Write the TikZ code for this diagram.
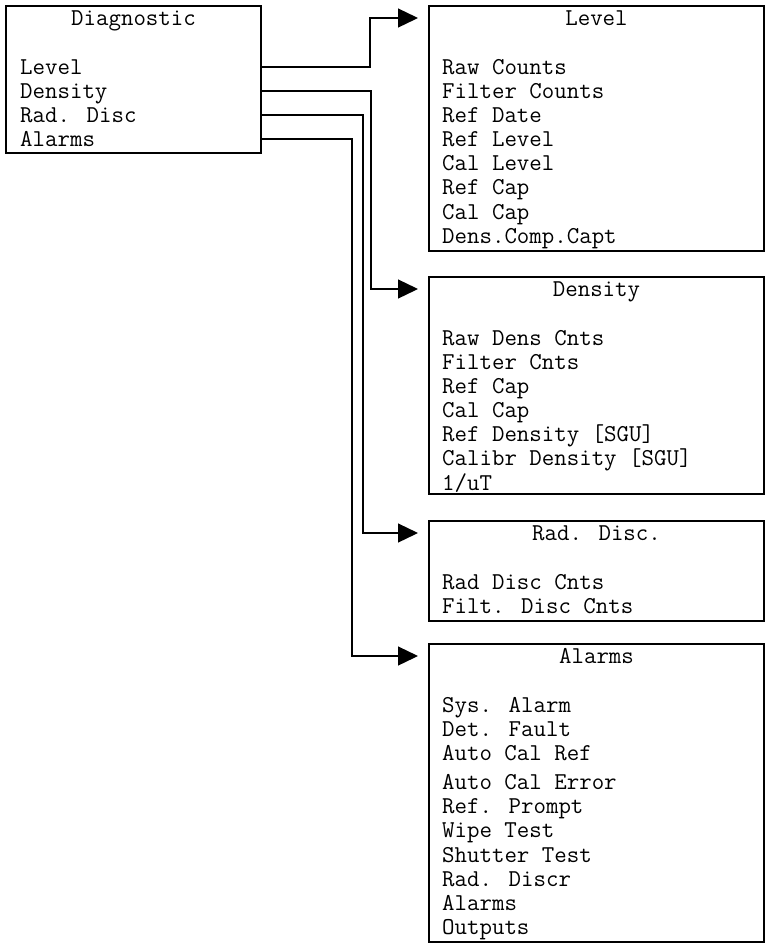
\documentclass[tikz,border=0pt]{standalone}
\usepackage{fontspec}
\usetikzlibrary{arrows.meta}

\begin{document}
\begin{tikzpicture}
 [x=1pt, y=-1pt,
  box/.style={draw, line width=2pt, anchor=north west, inner sep=0pt, minimum width=335pt},
  head/.style={font=\ttfamily\fontsize{24.2}{24.15}\selectfont, inner sep=0pt, anchor=base, text height=14pt, text depth=0pt},
  item/.style={head, anchor=base west},
  list/.style={font=\ttfamily\fontsize{24.2}{24.15}\selectfont, inner sep=0pt, anchor=north west, align=left},
  conn/.style={line width=1.3pt, -{Triangle[length=20pt,width=19pt]}, shorten >=10pt}]

\useasboundingbox (0,0) rectangle (767,943);

% main menu
\node[box, minimum width=255pt, minimum height=147pt] (diag) at (5,5) {};
\node[head] (diagt) at ([yshift=-20pt]diag.north) {Diagnostic};
\node[item] (dlev) at (20,74) {Level};
\node[item] (dden) at (20,98) {Density};
\node[item] (drad) at (20,122) {Rad. Disc};
\node[item] (dala) at (20,146) {Alarms};

% sub menus
\node[box, minimum height=245pt] (level) at (428,5) {};
\node[head] (levt) at ([yshift=-20pt]level.north) {Level};
\node[list] (levl) at ([xshift=14pt,yshift=-52pt]level.north west)
  {\strut Raw Counts\\Filter Counts\\Ref Date\\Ref Level\\Cal Level\\Ref Cap\\Cal Cap\\Dens.Comp.Capt};

\node[box, minimum height=217pt] (dens) at (428,276) {};
\node[head] (dent) at ([yshift=-20pt]dens.north) {Density};
\node[list] (densl) at ([xshift=14pt,yshift=-52pt]dens.north west)
  {\strut Raw Dens Cnts\\Filter Cnts\\Ref Cap\\Cal Cap\\Ref Density [SGU]\\Calibr Density [SGU]\\1/uT};

\node[box, minimum height=100pt] (rad) at (428,520) {};
\node[head] (radt) at ([yshift=-20pt]rad.north) {Rad. Disc.};
\node[list] (radl) at ([xshift=14pt,yshift=-52pt]rad.north west)
  {\strut Rad Disc Cnts\\Filt. Disc Cnts};

\node[box, minimum height=298pt] (alarms) at (428,643) {};
\node[head] (alat) at ([yshift=-20pt]alarms.north) {Alarms};
\node[list] (alal) at ([xshift=14pt,yshift=-52pt]alarms.north west)
  {\strut Sys. Alarm\\Det. Fault\\Auto Cal Ref\\[5pt]Auto Cal Error\\Ref. Prompt\\Wipe Test\\Shutter Test\\Rad. Discr\\Alarms\\Outputs};

% connectors
\draw[conn] (dlev -| diag.east) -- ++(108,0) |- (levt -| level.west);
\draw[conn] (dden -| diag.east) -- ++(109,0) |- (dent -| dens.west);
\draw[conn] (drad -| diag.east) -- ++(101,0) |- (radt -| rad.west);
\draw[conn] (dala -| diag.east) -- ++(90,0) |- (alat -| alarms.west);

\end{tikzpicture}
\end{document}
